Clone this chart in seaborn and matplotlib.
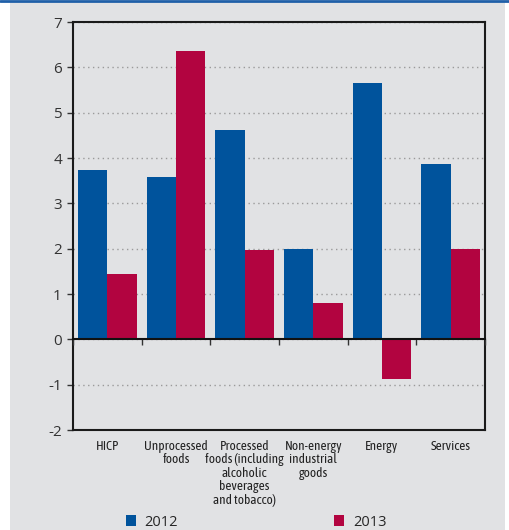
import matplotlib
matplotlib.use("Agg")
import matplotlib.pyplot as plt
import seaborn as sns
import pandas as pd
from matplotlib.patches import Rectangle
from matplotlib.lines import Line2D

categories = ["HICP", "Unprocessed\nfoods", "Processed\nfoods (including\nalcoholic\nbeverages\nand tobacco)",
              "Non-energy\nindustrial\ngoods", "Energy", "Services"]
values_2012 = [3.73, 3.57, 4.61, 1.99, 5.65, 3.86]
values_2013 = [1.44, 6.35, 1.97, 0.80, -0.87, 1.99]
series = ["2012", "2013"]
yticks = [-2, -1, 0, 1, 2, 3, 4, 5, 6, 7]

df = pd.DataFrame({
    "category": categories * 2,
    "value": values_2012 + values_2013,
    "year": [series[0]] * len(categories) + [series[1]] * len(categories),
})

sns.set_style("white")
BG = "#E1E2E4"
BLUE = "#00539C"
RED = "#B20440"
XFONT = ["Asap Condensed", "Archivo Narrow", "DejaVu Sans"]
YFONT = ["Open Sans", "DejaVu Sans"]

fig = plt.figure(figsize=(5.09, 5.30), dpi=100, facecolor="white")
fig.patches.append(Rectangle((10 / 509, 0), 495 / 509, 1 - 2 / 530, transform=fig.transFigure,
                             facecolor=BG, edgecolor="none", zorder=-5))
fig.lines.append(Line2D([0, 1], [1 - 1 / 530, 1 - 1 / 530], transform=fig.transFigure,
                        color="#1F5FA8", lw=2, zorder=-4))

ax = fig.add_axes([73 / 509, 1 - 430 / 530, 412 / 509, 408 / 530])
ax.set_facecolor(BG)

sns.barplot(data=df, x="category", y="value", hue="year", palette=[BLUE, RED],
            width=0.85, saturation=1, ax=ax, legend=True, zorder=2, linewidth=0)

ymin, ymax = -2, 7
ax.set_ylim(ymin, ymax)
ax.set_xlim(-0.5, len(categories) - 0.5)
ax.set_yticks(yticks)
ax.set_yticklabels([str(t) for t in yticks], fontsize=11, color="#333333", family=YFONT)
ax.set_xlabel("")
ax.set_ylabel("")
ax.tick_params(axis="y", direction="out", length=4, width=1, color="#333333", pad=4, left=True)
ax.tick_params(axis="x", length=0, pad=7)
for lab in ax.get_xticklabels():
    lab.set_color("#222222")
    lab.set_linespacing(1.05)
    lab.set_verticalalignment("top")
    lab.set_family(XFONT)
    lab.set_fontsize(9.5)

ax.yaxis.grid(True, linestyle=(0, (1, 2.5)), color="#9a9a9a", lw=1)
ax.set_axisbelow(True)
for s in ax.spines.values():
    s.set_visible(True)
    s.set_color("#1a1a1a")
    s.set_linewidth(1.5)

# zero line with ticks at category boundaries
sec = ax.secondary_xaxis((0 - ymin) / (ymax - ymin))
sec.set_zorder(5)
sec.set_xticks([i - 0.5 for i in range(len(categories) + 1)])
sec.set_xticklabels([])
sec.tick_params(direction="out", length=4, width=1, color="#333333")
sec.spines["bottom"].set_linewidth(1.5)
sec.spines["bottom"].set_color("#111111")

handles, labels = ax.get_legend_handles_labels()
ax.get_legend().remove()
fig.legend(handles, labels, loc="center", bbox_to_anchor=(0.503, 0.015), ncol=2, frameon=False,
           handlelength=0.7, handleheight=0.85, handletextpad=0.6,
           columnspacing=10.7, prop={"family": YFONT, "size": 10.5})

fig.savefig("out.png", dpi=100, facecolor="white")
